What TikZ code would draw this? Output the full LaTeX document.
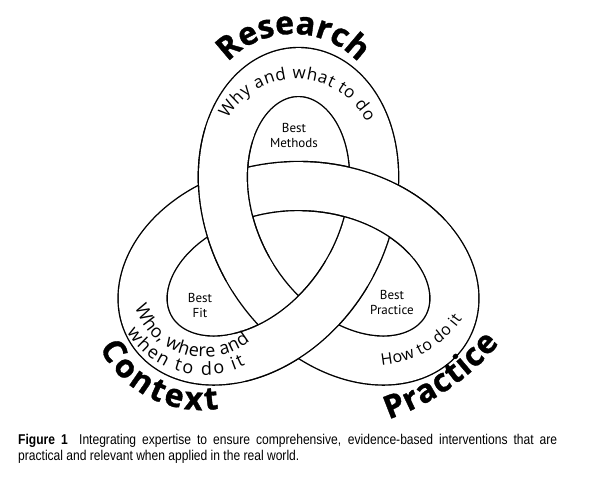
\documentclass[tikz,border=0pt]{standalone}
\usepackage{fontspec}
\setmainfont{Open Sans}
\newfontfamily\heavyfont[FakeBold=1]{Open Sans}
\newfontfamily\boxfont{PT Sans}
\newfontfamily\capfont[FakeStretch=0.85]{Liberation Sans}
\usepackage{tikz}
\usetikzlibrary{decorations.text}

\newcommand{\bigword}{\heavyfont\fontsize{32}{32}\selectfont\bfseries}
\newcommand{\bandword}{\fontsize{17}{17}\selectfont}
% centre line of the trefoil band, t in degrees
\newcommand{\strand}[3]{plot[domain=#1:#2, samples=#3, variable=\t]
  ({sin(\t)+2*sin(2*\t)}, {2*cos(2*\t)-cos(\t)})}

\tikzset{
  rim/.style={draw=black, line width=50.4pt},
  core/.style={draw=white, line width=47.6pt},
  curved/.style={decorate, decoration={text along path, text align=fit to path, text={#1}}},
  best/.style={font=\boxfont\fontsize{13}{15}\selectfont, align=center},
}

\begin{document}
\begin{tikzpicture}[x=1pt, y=1pt]
\useasboundingbox (0,0) rectangle (590,488);

% knot: whole band first, then the three over-passes again
\begin{scope}[shift={(298.5,245)}, x=57pt, y=57pt]
  \draw[rim] \strand{15.52}{375.52}{721};
  \draw[core] \strand{15.52}{375.52}{721};
  \foreach \c in {15.52,135.52,255.52} {
    \draw[rim] \strand{\c-15}{\c+15}{61};
    \draw[core] \strand{\c-17}{\c+17}{69};
  }
\end{scope}

% holes of the three loops
\node[best] (methods) at (294,353) {Best\\Methods};
\node[best] (fit) at (200,183) {Best\\Fit};
\node[best] (practice) at (392,186) {Best\\Practice};

% words along the loops
\path[curved={|\bigword|Research}] ([shift={(137:89)}]293,365) arc[start angle=137, end angle=43, radius=89];
\path[curved={|\bandword|Why and what to do}] ([shift={(150:79)}]296,330) arc[start angle=150, end angle=27, radius=79];
\path[curved={|\bigword|Context}] ([shift={(207:114)}]201,192) arc[start angle=207, end angle=279, radius=114];
\path[curved={|\fontsize{18}{18}\selectfont|Who, where and}] ([shift={(199:73)}]204,204) arc[start angle=199, end angle=309, radius=73];
\path[curved={|\fontsize{18}{18}\selectfont|when to do it}] ([shift={(212:91)}]204,204) arc[start angle=212, end angle=297, radius=91];
\path[curved={|\bigword|Practice}] ([shift={(289:251)}]307,306) arc[start angle=289, end angle=320, radius=251];
\path[curved={|\fontsize{16}{16}\selectfont|How to do it}] ([shift={(275:110)}]372,232) arc[start angle=275, end angle=325, radius=110];

% caption
\node[anchor=base west, inner sep=0pt, font=\capfont\fontsize{14.2}{16}\selectfont] (cap1) at (18,43)
  {\makebox[539pt][s]{\textbf{Figure 1}\hspace{0.8em}Integrating expertise to ensure comprehensive, evidence-based interventions that are}};
\node[anchor=base west, inner sep=0pt, font=\capfont\fontsize{14.2}{16}\selectfont] (cap2) at (18,27)
  {practical and relevant when applied in the real world.};
\end{tikzpicture}
\end{document}
